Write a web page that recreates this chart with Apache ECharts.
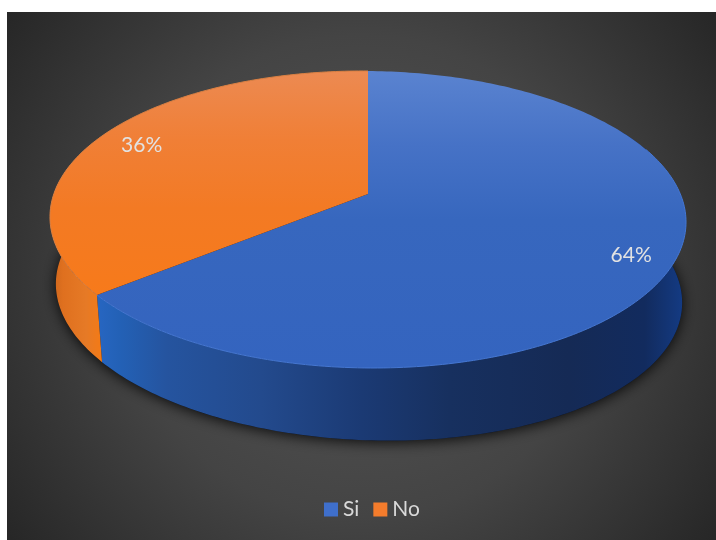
<!DOCTYPE html>
<html>
<head>
<meta charset="utf-8">
<style>html,body{margin:0;padding:0;background:#fff}#chart{width:716px;height:540px}</style>
<script src="https://cdn.jsdelivr.net/npm/echarts@6/dist/echarts.min.js"></script>
</head>
<body>
<div id="chart"></div>
<script>
// Answer shares, in percent
const categories = ['Si', 'No'];
const shares = [64, 36];

const legendColors = ['#3f6fcb', '#f47c2c'];

// Perspective disc: each rim point is projected from the unit circle,
// with a slight shear because the camera sits a little off-axis.
const top3d = { cx: 368, cy: 194, rx: 313.3, ry: 144.1, k: 0.1717, shear: 0.008 };
const base3d = { cx: 369, cy: 268, rx: 308.5, ry: 142.7, k: 0.1717, shear: 0.03 };

function project(d, deg, f) {
  const a = deg * Math.PI / 180, r = f === undefined ? 1 : f;
  const u = Math.sin(a) * r, v = Math.cos(a) * r, w = 1 + d.k * v;
  const dx = d.rx * u / w;
  return [d.cx + dx, d.cy - d.ry * v / w + d.shear * dx];
}
function arc(d, from, to) {
  const pts = [], n = Math.max(2, Math.ceil(Math.abs(to - from)));
  for (let i = 0; i <= n; i++) pts.push(project(d, from + (to - from) * i / n));
  return pts;
}
function hGrad(x0, x1, stops) {
  return { type: 'linear', x: x0, y: 0, x2: x1, y2: 0, global: true,
    colorStops: stops.map(s => ({ offset: s[0], color: s[1] })) };
}
function vGrad(y0, y1, stops) {
  return { type: 'linear', x: 0, y: y0, x2: 0, y2: y1, global: true,
    colorStops: stops.map(s => ({ offset: s[0], color: s[1] })) };
}

const looks = {
  Si: {
    face: vGrad(71, 368, [[0, '#5a83d0'], [0.25, '#4672c6'], [0.5, '#3767be'], [1, '#3464bf']]),
    wall: hGrad(96, 686, [[0, '#2766c2'], [0.04, '#2361b6'], [0.12, '#25549f'], [0.28, '#234a8d'],
      [0.45, '#1b3a74'], [0.6, '#17305f'], [0.8, '#152a55'], [0.93, '#122b5e'], [1, '#143c86']]),
    rim: '#4577d2', rimFrom: 70, rimTo: 230.4
  },
  No: {
    face: vGrad(71, 300, [[0, '#ec8a52'], [0.3, '#f07f36'], [0.6, '#f37a24'], [1, '#f77a1a']]),
    wall: hGrad(50, 102, [[0, '#c9641c'], [0.25, '#df701f'], [0.7, '#e67a26'], [1, '#f47a15']]),
    rim: '#d98043', rimFrom: 230.4, rimTo: 360
  }
};

function sliceRenderer(index) {
  return function (params, api) {
    const total = shares.reduce((a, b) => a + b, 0);
    const value = api.value(0);
    // Slices run clockwise from twelve o'clock, in category order.
    const before = shares.slice(0, index).reduce((a, b) => a + b, 0);
    const start = before / total * 360, end = (before + value) / total * 360;
    const look = looks[categories[index]];
    const children = [];

    if (index === 0) {
      // Underside of the whole disc, casting the soft shadow on the backdrop.
      children.push({ type: 'polygon', shape: { points: arc(base3d, 0, 360) },
        style: { fill: '#0c1220', shadowBlur: 14, shadowColor: 'rgba(0,0,0,0.85)', shadowOffsetY: 2 } });
    }

    // Outer wall, limited to the front of the rim; the top face covers the rest.
    const wFrom = Math.max(start, 60), wTo = Math.min(end, 300);
    if (wTo > wFrom) {
      children.push({ type: 'polygon',
        shape: { points: arc(top3d, wFrom, wTo).concat(arc(base3d, wTo, wFrom)) },
        style: { fill: look.wall } });
    }

    // Top face and its lit edge.
    children.push({ type: 'polygon',
      shape: { points: [[top3d.cx, top3d.cy]].concat(arc(top3d, start, end)) },
      style: { fill: look.face } });
    children.push({ type: 'polyline', shape: { points: arc(top3d, look.rimFrom, look.rimTo) },
      style: { fill: null, stroke: look.rim, lineWidth: 1 } });

    // Percentage label inside the slice.
    const p = project(top3d, (start + end) / 2, 0.86);
    children.push({ type: 'text', style: {
      text: Math.round(value / total * 100) + '%', x: p[0] + 3, y: p[1] + 3,
      align: 'center', verticalAlign: 'middle',
      font: '21px Lato, "Open Sans", sans-serif', fill: '#e2e2e2' } });

    return { type: 'group', children };
  };
}

const chart = echarts.init(document.getElementById('chart'));
chart.setOption({
  animation: false,
  backgroundColor: '#ffffff',
  graphic: [{
    type: 'rect', z: 0, silent: true,
    shape: { x: 7, y: 12, width: 709, height: 528 },
    style: { fill: { type: 'radial', x: 0.5, y: 0.5, r: 0.83, colorStops: [
      { offset: 0, color: '#565656' }, { offset: 0.55, color: '#444444' }, { offset: 1, color: '#272727' }] } }
  }],
  legend: {
    data: categories, left: 319, top: 494,
    icon: 'rect', itemWidth: 14, itemHeight: 14, itemGap: 14,
    textStyle: { color: '#d9d9d9', fontFamily: 'Lato', fontSize: 21, padding: [0, 0, 0, 0] }
  },
  series: categories.map((name, i) => ({
    type: 'custom', name, coordinateSystem: 'none', silent: true,
    itemStyle: { color: legendColors[i] },
    renderItem: sliceRenderer(i),
    data: [[shares[i]]]
  }))
});
</script>
</body>
</html>
